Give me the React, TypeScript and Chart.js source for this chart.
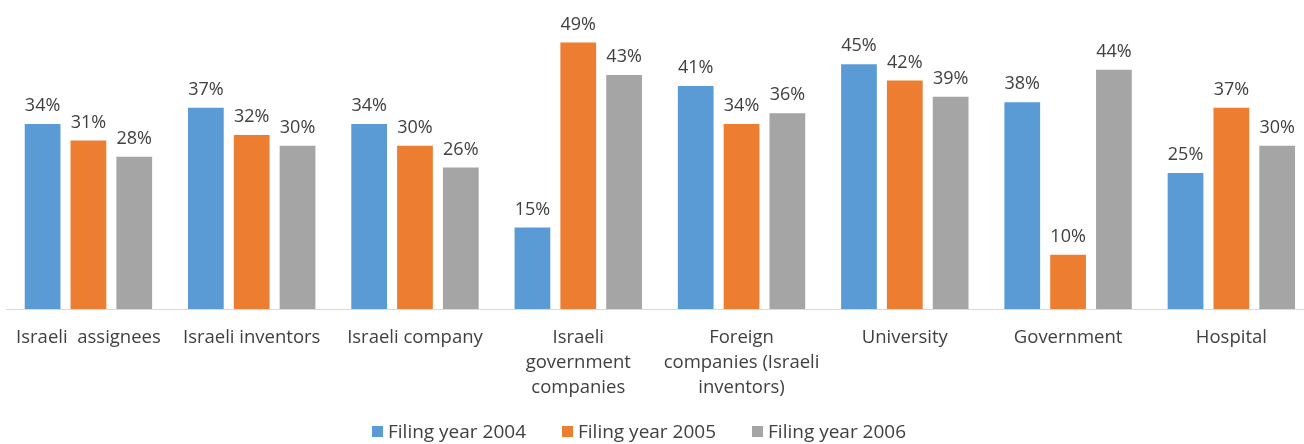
import React, { useEffect, useRef } from "react";
import { Chart, registerables } from "chart.js";

Chart.register(...registerables);

const categories: (string | string[])[] = [
  "Israeli  assignees",
  "Israeli inventors",
  "Israeli company",
  ["Israeli", "government", "companies"],
  ["Foreign", "companies (Israeli", "inventors)"],
  "University",
  "Government",
  "Hospital",
];
const seriesNames = ["Filing year 2004", "Filing year 2005", "Filing year 2006"];
const year2004 = [34, 37, 34, 15, 41, 45, 38, 25];
const year2005 = [31, 32, 30, 49, 34, 42, 10, 37];
const year2006 = [28, 30, 26, 43, 36, 39, 44, 30];
const colors = ["#5B9BD5", "#ED7D31", "#A5A5A5"];

const FONT = "'Open Sans', 'Noto Sans', sans-serif";

const dataLabelPlugin = {
  id: "dataLabels",
  afterDatasetsDraw(chart: any) {
    const ctx = chart.ctx;
    ctx.save();
    ctx.font = `18px ${FONT}`;
    ctx.fillStyle = "#404040";
    ctx.textAlign = "center";
    ctx.textBaseline = "middle";
    chart.data.datasets.forEach((ds: any, i: number) => {
      const meta = chart.getDatasetMeta(i);
      meta.data.forEach((bar: any, j: number) => {
        ctx.fillText(`${ds.data[j]}%`, bar.x, bar.y - 18);
      });
    });
    ctx.restore();
  },
};

export default function App() {
  const ref = useRef<HTMLCanvasElement>(null);
  useEffect(() => {
    document.body.style.margin = "0";
    const seriesData = [year2004, year2005, year2006];
    const chart = new Chart(ref.current!, {
      type: "bar",
      data: {
        labels: categories,
        datasets: seriesNames.map((name, i) => ({
          label: name,
          data: seriesData[i],
          backgroundColor: colors[i],
          categoryPercentage: 0.842,
          barPercentage: 0.78,
        })),
      },
      options: {
        responsive: false,
        animation: false,
        layout: { padding: { top: 37, left: 1, right: 3, bottom: 28 } },
        plugins: {
          legend: { display: false },
          tooltip: { enabled: false },
        },
        scales: {
          y: { display: false, min: 0, max: 50 },
          x: {
            grid: { display: false, drawTicks: false },
            border: { display: true, color: "#D9D9D9", width: 1 },
            ticks: {
              color: "#404040",
              padding: 16,
              maxRotation: 0,
              autoSkip: false,
              font: { family: FONT, size: 18.5, lineHeight: 1.35 },
            },
          },
        },
      },
      plugins: [dataLabelPlugin],
    });
    return () => chart.destroy();
  }, []);

  return (
    <div style={{ position: "relative", width: 1304, height: 444, overflow: "hidden", background: "#fff" }}>
      <canvas ref={ref} width={1316} height={444} style={{ position: "absolute", left: 0, top: 0 }} />
      <div
        style={{
          position: "absolute",
          top: 419,
          left: 372,
          display: "flex",
          alignItems: "center",
          fontFamily: FONT,
          fontSize: 19,
          color: "#404040",
          lineHeight: "24px",
          whiteSpace: "nowrap",
        }}
      >
        {seriesNames.map((name, i) => (
          <div key={name} style={{ display: "flex", alignItems: "center", marginRight: 36 }}>
            <span style={{ display: "inline-block", width: 11, height: 11, background: colors[i], marginRight: 5 }} />
            <span>{name}</span>
          </div>
        ))}
      </div>
    </div>
  );
}
